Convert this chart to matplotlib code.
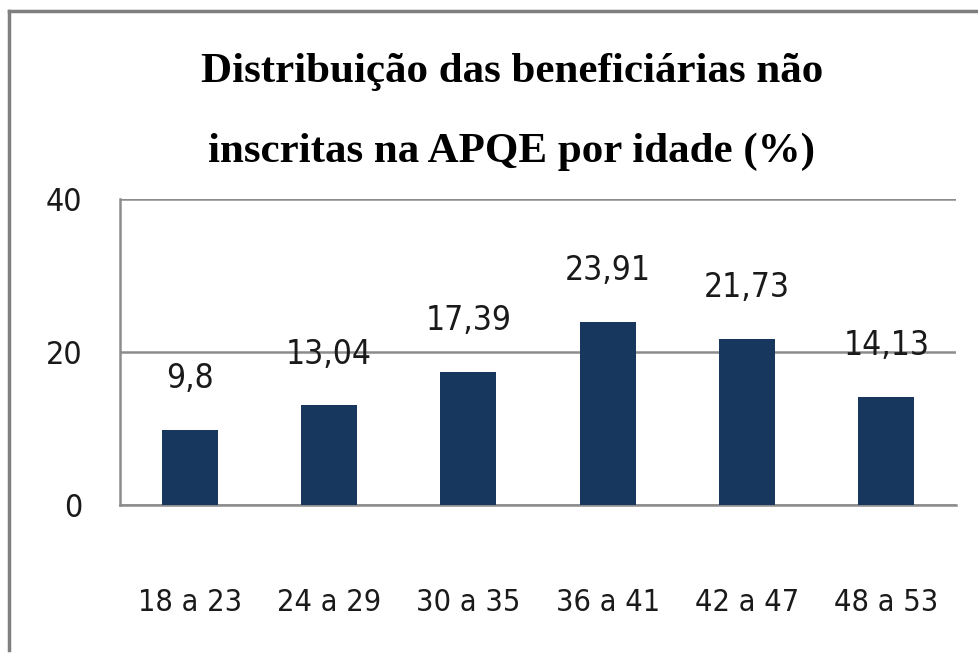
import matplotlib
matplotlib.use("Agg")
import matplotlib.pyplot as plt
from matplotlib import font_manager
from matplotlib.lines import Line2D

# data
faixas = ["18 a 23", "24 a 29", "30 a 35", "36 a 41", "42 a 47", "48 a 53"]
valores = [9.8, 13.04, 17.39, 23.91, 21.73, 14.13]
rotulos = ["9,8", "13,04", "17,39", "23,91", "21,73", "14,13"]
y_ticks = [0, 20, 40]

titulo = "Distribuição das beneficiárias não\ninscritas na APQE por idade (%)"

#pick a narrow font if there is one
nomes = {f.name for f in font_manager.fontManager.ttflist}
if "Liberation Sans Narrow" in nomes:
    fonte = dict(family="Liberation Sans Narrow")
    tam_x, tam_y, tam_v = 27, 27, 27
else:
    fonte = dict(family="DejaVu Sans", stretch="condensed")
    tam_x, tam_y, tam_v = 22, 23, 24

cor_barra = "#17375E"
cor_linha = "#8C8C8C"

fig = plt.figure(figsize=(9.79, 6.58), dpi=100)
W, H = 979, 658

ax = fig.add_axes([120 / W, 1 - 505 / H, (956 - 120) / W, (505 - 199) / H])

x = list(range(len(faixas)))
ax.bar(x, valores, width=0.4, color=cor_barra, zorder=3)

for xi, v, r in zip(x, valores, rotulos):
    ax.annotate(r, (xi, v), xytext=(0, 30), textcoords="offset points",
                ha="center", va="baseline", fontsize=tam_v, color="#1a1a1a", **fonte)

ax.set_xlim(-0.5, len(faixas) - 0.5)
ax.set_ylim(0, 40)
ax.set_yticks(y_ticks)
ax.set_xticks(x)
ax.set_xticklabels(faixas)
ax.yaxis.grid(True, color=cor_linha, lw=1.8, zorder=0)
ax.set_axisbelow(True)

for s in ["top", "right"]:
    ax.spines[s].set_visible(False)
for s in ["left", "bottom"]:
    ax.spines[s].set_color(cor_linha)
    ax.spines[s].set_linewidth(1.8)

ax.tick_params(axis="both", length=0, colors="#1a1a1a")
ax.tick_params(axis="y", pad=27)
ax.tick_params(axis="x", pad=60)
for t in ax.get_xticklabels():
    t.set_fontsize(tam_x)
for t in ax.get_yticklabels():
    t.set_fontsize(tam_y)
for t in ax.get_xticklabels() + ax.get_yticklabels():
    t.set_fontfamily(fonte["family"])
    if "stretch" in fonte:
        t.set_fontstretch(fonte["stretch"])

fig.text(512 / W, 1 - 112 / H, titulo, ha="center", va="center",
         fontsize=31, fontweight="bold", family="Liberation Serif",
         linespacing=2.4)

# outer chart frame (left and top edges visible)
fig.add_artist(Line2D([9 / W, 9 / W], [1 - 650 / H, 1 - 11 / H], color="#7f7f7f", lw=2.5))
fig.add_artist(Line2D([9 / W, 1.0], [1 - 11 / H, 1 - 11 / H], color="#7f7f7f", lw=2.5))

fig.savefig("out.png", dpi=100)
